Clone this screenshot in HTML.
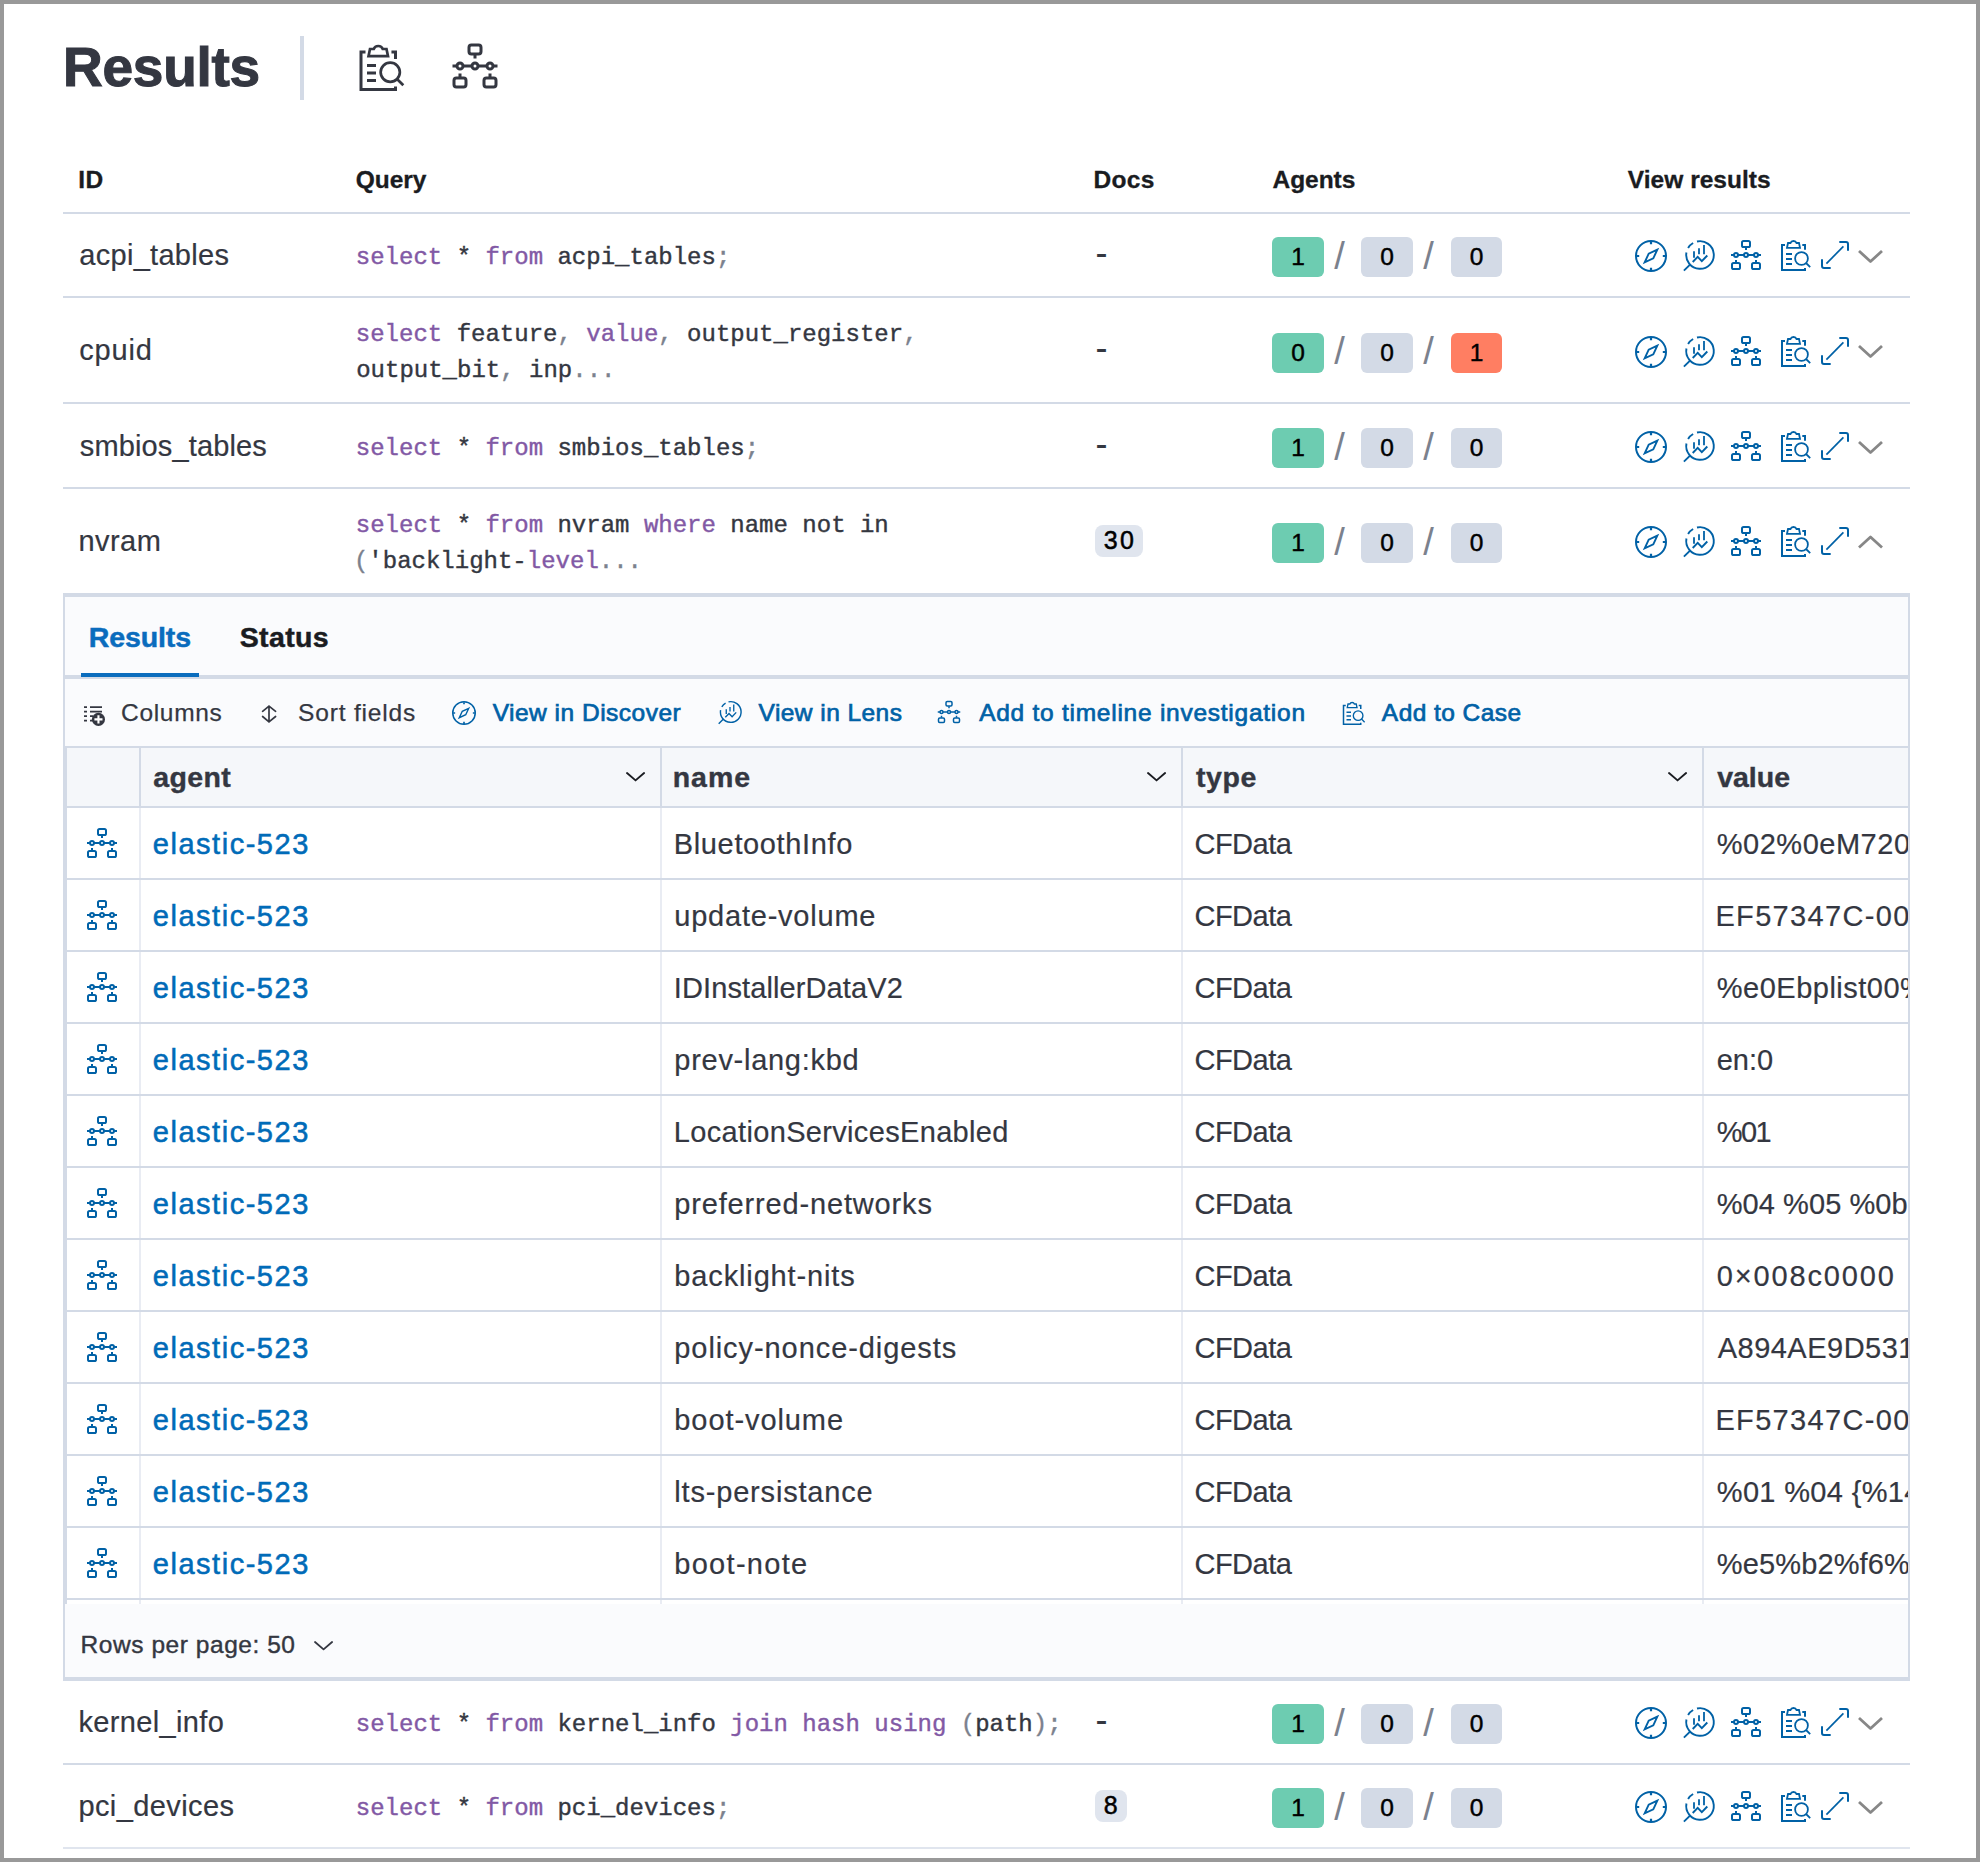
<!DOCTYPE html>
<html lang="en"><head><meta charset="utf-8"><title>Results</title><style>
html,body{margin:0;padding:0}
body{width:1980px;height:1862px;position:relative;overflow:hidden;background:#fff;font-family:"Liberation Sans",sans-serif}
.t{position:absolute;white-space:pre;display:block}
.r{position:absolute}
.i{position:absolute;overflow:visible}
.clip{position:absolute;overflow:hidden}
.bt{font:400 24.500px "Liberation Sans",sans-serif;color:#000;text-align:center;-webkit-text-stroke:0.45px #000}
#frame{position:absolute;left:0;top:0;width:1972px;height:1854px;border:4px solid #999;pointer-events:none}
</style></head>
<body>
<span id="t1" class="t" style="left:63.01px;top:40.44px;font:700 55.00px/55.00px 'Liberation Sans', sans-serif;color:#343741;letter-spacing:-0.252px;-webkit-text-stroke:1.1px currentColor;">Results</span>
<div class="r" style="left:300px;top:36px;width:4px;height:64px;background:#d3dae6;"></div>
<svg class="i" style="left:357.6px;top:42.9px" width="48" height="48" viewBox="0 0 32 32" fill="none" stroke="#343741" ><path d="M5 6H2V31H25V29" stroke-width="2"/><path d="M22.3 6H25V10.700" stroke-width="2"/><path d="M7 8.8L8 4H10.500C11 2.600 12.500 2 13.500 2C14.500 2 16 2.600 16.500 4H19L20 8.800Z" stroke-width="1.8" stroke-linejoin="miter"/><path d="M6 15h6M6 20h6M6 25h6" stroke-width="2"/><circle cx="21.500" cy="19.500" r="6.400" stroke-width="1.800"/><path d="M26 24l4.200 4.200" stroke-width="1.800"/></svg>
<svg class="i" style="left:450.6px;top:41.9px" width="48" height="48" viewBox="0 0 16 16" fill="none" stroke="#343741" stroke-width="1"><rect x="6" y="1" width="4" height="3" rx="0.8"/><rect x="1" y="12" width="4" height="3" rx="0.8"/><rect x="11" y="12" width="4" height="3" rx="0.8"/><path d="M0.5 8h15M8 4.2v1.3M3 10.500v1.3M13 10.500v1.3"/><circle cx="3" cy="8" r="1" fill="#fff"/><circle cx="8" cy="8" r="1" fill="#fff"/><circle cx="13" cy="8" r="1" fill="#fff"/></svg>
<span id="t2" class="t" style="left:78.22px;top:167.96px;font:700 24.50px/24.50px 'Liberation Sans', sans-serif;color:#1a1c21;letter-spacing:0.481px;-webkit-text-stroke:0.3px currentColor;">ID</span>
<span id="t3" class="t" style="left:355.68px;top:167.96px;font:700 24.50px/24.50px 'Liberation Sans', sans-serif;color:#1a1c21;letter-spacing:-0.025px;-webkit-text-stroke:0.3px currentColor;">Query</span>
<span id="t4" class="t" style="left:1093.62px;top:167.96px;font:700 24.50px/24.50px 'Liberation Sans', sans-serif;color:#1a1c21;letter-spacing:0.271px;-webkit-text-stroke:0.3px currentColor;">Docs</span>
<span id="t5" class="t" style="left:1272.57px;top:167.96px;font:700 24.50px/24.50px 'Liberation Sans', sans-serif;color:#1a1c21;letter-spacing:-0.052px;-webkit-text-stroke:0.3px currentColor;">Agents</span>
<span id="t6" class="t" style="left:1627.85px;top:167.96px;font:700 24.50px/24.50px 'Liberation Sans', sans-serif;color:#1a1c21;letter-spacing:0.023px;-webkit-text-stroke:0.3px currentColor;">View results</span>
<div class="r" style="left:63px;top:212px;width:1847px;height:2px;background:#d3dae6;"></div>
<span id="t7" class="t" style="left:79.29px;top:240.85px;font:400 29.00px/29.00px 'Liberation Sans', sans-serif;color:#343741;letter-spacing:0.290px;-webkit-text-stroke:0.2px currentColor;">acpi_tables</span>
<span id="t8" class="t" style="left:355.82px;top:245.60px;font:400 24.00px/24.00px 'Liberation Mono', monospace;color:#343741;-webkit-text-stroke:0.4px currentColor;"><span style="color:#8259a5">select</span> * <span style="color:#8259a5">from</span> acpi_tables<span style="color:#7b818d">;</span></span>
<span id="t9" class="t" style="left:1095.58px;top:234.73px;font:400 36.00px/36.00px 'Liberation Sans', sans-serif;color:#343741;">-</span>
<div class="r" style="left:1272px;top:237px;width:52px;height:40px;background:#6dccb1;border-radius:6px;"></div>
<span class="t bt" style="left:1272px;top:237px;width:52px;height:40px;line-height:40px;">1</span>
<div class="r" style="left:1361px;top:237px;width:52px;height:40px;background:#d3dae6;border-radius:6px;"></div>
<span class="t bt" style="left:1361px;top:237px;width:52px;height:40px;line-height:40px;">0</span>
<div class="r" style="left:1450.5px;top:237px;width:51.3px;height:40px;background:#d3dae6;border-radius:6px;"></div>
<span class="t bt" style="left:1450.5px;top:237px;width:52px;height:40px;line-height:40px;">0</span>
<span id="t10" class="t" style="left:1334.30px;top:237.33px;font:400 38.00px/38.00px 'Liberation Sans', sans-serif;color:#7b818d;">/</span>
<span id="t11" class="t" style="left:1423.20px;top:237.33px;font:400 38.00px/38.00px 'Liberation Sans', sans-serif;color:#7b818d;">/</span>
<svg class="i" style="left:1635px;top:240px" width="32" height="32" viewBox="0 0 32 32" fill="none" stroke="#0061a6" ><circle cx="16" cy="16" r="15" stroke-width="2"/><path d="M16 1.5v2.700M16 27.800v2.700M1.5 16h2.700M27.800 16h2.700" stroke-width="2.2"/><path d="M22.300 9.700L13.700 13.700 9.700 22.300 18.300 18.300z" stroke-width="1.900" stroke-linejoin="miter"/></svg>
<svg class="i" style="left:1683px;top:239px" width="32" height="32" viewBox="0 0 32 32" fill="none" stroke="#0061a6" ><path d="M13.99 2.53A13.8 13.8 0 1 1 3.43 13.51" stroke-width="1.900"/><path d="M5.1 9.02A13.8 13.8 0 0 1 10.12 4.04" stroke-width="1.900"/><path d="M0.900 31.600L7.300 25.400" stroke-width="1.900"/><path d="M11 12.200v6.500M16 9.200v6M21 6.100v9.100" stroke-width="1.800"/><path d="M9.700 23L14.700 17.900 18.800 22.200 24.300 16.500" stroke-width="1.900"/></svg>
<svg class="i" style="left:1730px;top:239px" width="32" height="32" viewBox="0 0 16 16" fill="none" stroke="#0061a6" stroke-width="1"><rect x="6" y="1" width="4" height="3" rx="0.8"/><rect x="1" y="12" width="4" height="3" rx="0.8"/><rect x="11" y="12" width="4" height="3" rx="0.8"/><path d="M0.5 8h15M8 4.2v1.3M3 10.500v1.3M13 10.500v1.3"/><circle cx="3" cy="8" r="1" fill="#fff"/><circle cx="8" cy="8" r="1" fill="#fff"/><circle cx="13" cy="8" r="1" fill="#fff"/></svg>
<svg class="i" style="left:1780px;top:239px" width="32" height="32" viewBox="0 0 32 32" fill="none" stroke="#0061a6" ><path d="M5 6H2V31H25V29" stroke-width="2"/><path d="M22.3 6H25V10.700" stroke-width="2"/><path d="M7 8.8L8 4H10.500C11 2.600 12.500 2 13.500 2C14.500 2 16 2.600 16.500 4H19L20 8.800Z" stroke-width="1.8" stroke-linejoin="miter"/><path d="M6 15h6M6 20h6M6 25h6" stroke-width="2"/><circle cx="21.500" cy="19.500" r="6.400" stroke-width="1.800"/><path d="M26 24l4.200 4.200" stroke-width="1.800"/></svg>
<svg class="i" style="left:1819px;top:239px" width="32" height="32" viewBox="0 0 32 32" fill="none" stroke="#0061a6" ><path d="M20.300 3H27a2 2 0 0 1 2 2V11.700" stroke-width="2"/><path d="M3 20.300V27a2 2 0 0 0 2 2H11.700" stroke-width="2"/><path d="M7.400 24.600L24.400 7.400" stroke-width="1.700"/></svg>
<svg class="i" style="left:1854.7px;top:246.5px" width="31" height="18.5" fill="none"><path d="M4 4L15.5 14.5L27 4" stroke="#878787" stroke-width="2.8" stroke-linejoin="round" stroke-linecap="butt"/></svg>
<div class="r" style="left:63px;top:296px;width:1847px;height:2px;background:#d3dae6;"></div>
<span id="t12" class="t" style="left:79.29px;top:335.85px;font:400 29.00px/29.00px 'Liberation Sans', sans-serif;color:#343741;letter-spacing:0.827px;-webkit-text-stroke:0.2px currentColor;">cpuid</span>
<span id="t13" class="t" style="left:355.82px;top:322.60px;font:400 24.00px/24.00px 'Liberation Mono', monospace;color:#343741;-webkit-text-stroke:0.4px currentColor;"><span style="color:#8259a5">select</span> feature<span style="color:#7b818d">,</span> <span style="color:#8259a5">value</span><span style="color:#7b818d">,</span> output_register<span style="color:#7b818d">,</span></span>
<span id="t14" class="t" style="left:356.20px;top:358.60px;font:400 24.00px/24.00px 'Liberation Mono', monospace;color:#343741;-webkit-text-stroke:0.4px currentColor;">output_bit<span style="color:#7b818d">,</span> inp<span style="color:#7b818d">...</span></span>
<span id="t15" class="t" style="left:1095.58px;top:329.73px;font:400 36.00px/36.00px 'Liberation Sans', sans-serif;color:#343741;">-</span>
<div class="r" style="left:1272px;top:333px;width:52px;height:40px;background:#6dccb1;border-radius:6px;"></div>
<span class="t bt" style="left:1272px;top:333px;width:52px;height:40px;line-height:40px;">0</span>
<div class="r" style="left:1361px;top:333px;width:52px;height:40px;background:#d3dae6;border-radius:6px;"></div>
<span class="t bt" style="left:1361px;top:333px;width:52px;height:40px;line-height:40px;">0</span>
<div class="r" style="left:1450.5px;top:333px;width:51.3px;height:40px;background:#ff7e62;border-radius:6px;"></div>
<span class="t bt" style="left:1450.5px;top:333px;width:52px;height:40px;line-height:40px;">1</span>
<span id="t16" class="t" style="left:1334.30px;top:332.33px;font:400 38.00px/38.00px 'Liberation Sans', sans-serif;color:#7b818d;">/</span>
<span id="t17" class="t" style="left:1423.20px;top:332.33px;font:400 38.00px/38.00px 'Liberation Sans', sans-serif;color:#7b818d;">/</span>
<svg class="i" style="left:1635px;top:336px" width="32" height="32" viewBox="0 0 32 32" fill="none" stroke="#0061a6" ><circle cx="16" cy="16" r="15" stroke-width="2"/><path d="M16 1.5v2.700M16 27.800v2.700M1.5 16h2.700M27.800 16h2.700" stroke-width="2.2"/><path d="M22.300 9.700L13.700 13.700 9.700 22.300 18.300 18.300z" stroke-width="1.900" stroke-linejoin="miter"/></svg>
<svg class="i" style="left:1683px;top:335px" width="32" height="32" viewBox="0 0 32 32" fill="none" stroke="#0061a6" ><path d="M13.99 2.53A13.8 13.8 0 1 1 3.43 13.51" stroke-width="1.900"/><path d="M5.1 9.02A13.8 13.8 0 0 1 10.12 4.04" stroke-width="1.900"/><path d="M0.900 31.600L7.300 25.400" stroke-width="1.900"/><path d="M11 12.200v6.500M16 9.200v6M21 6.100v9.100" stroke-width="1.800"/><path d="M9.700 23L14.700 17.900 18.800 22.200 24.300 16.500" stroke-width="1.900"/></svg>
<svg class="i" style="left:1730px;top:335px" width="32" height="32" viewBox="0 0 16 16" fill="none" stroke="#0061a6" stroke-width="1"><rect x="6" y="1" width="4" height="3" rx="0.8"/><rect x="1" y="12" width="4" height="3" rx="0.8"/><rect x="11" y="12" width="4" height="3" rx="0.8"/><path d="M0.5 8h15M8 4.2v1.3M3 10.500v1.3M13 10.500v1.3"/><circle cx="3" cy="8" r="1" fill="#fff"/><circle cx="8" cy="8" r="1" fill="#fff"/><circle cx="13" cy="8" r="1" fill="#fff"/></svg>
<svg class="i" style="left:1780px;top:335px" width="32" height="32" viewBox="0 0 32 32" fill="none" stroke="#0061a6" ><path d="M5 6H2V31H25V29" stroke-width="2"/><path d="M22.3 6H25V10.700" stroke-width="2"/><path d="M7 8.8L8 4H10.500C11 2.600 12.500 2 13.500 2C14.500 2 16 2.600 16.500 4H19L20 8.800Z" stroke-width="1.8" stroke-linejoin="miter"/><path d="M6 15h6M6 20h6M6 25h6" stroke-width="2"/><circle cx="21.500" cy="19.500" r="6.400" stroke-width="1.800"/><path d="M26 24l4.200 4.200" stroke-width="1.800"/></svg>
<svg class="i" style="left:1819px;top:335px" width="32" height="32" viewBox="0 0 32 32" fill="none" stroke="#0061a6" ><path d="M20.300 3H27a2 2 0 0 1 2 2V11.700" stroke-width="2"/><path d="M3 20.300V27a2 2 0 0 0 2 2H11.700" stroke-width="2"/><path d="M7.400 24.600L24.400 7.400" stroke-width="1.700"/></svg>
<svg class="i" style="left:1854.7px;top:341.5px" width="31" height="18.5" fill="none"><path d="M4 4L15.5 14.5L27 4" stroke="#878787" stroke-width="2.8" stroke-linejoin="round" stroke-linecap="butt"/></svg>
<div class="r" style="left:63px;top:402px;width:1847px;height:2px;background:#d3dae6;"></div>
<span id="t18" class="t" style="left:79.75px;top:431.85px;font:400 29.00px/29.00px 'Liberation Sans', sans-serif;color:#343741;letter-spacing:0.141px;-webkit-text-stroke:0.2px currentColor;">smbios_tables</span>
<span id="t19" class="t" style="left:355.82px;top:436.60px;font:400 24.00px/24.00px 'Liberation Mono', monospace;color:#343741;-webkit-text-stroke:0.4px currentColor;"><span style="color:#8259a5">select</span> * <span style="color:#8259a5">from</span> smbios_tables<span style="color:#7b818d">;</span></span>
<span id="t20" class="t" style="left:1095.58px;top:425.73px;font:400 36.00px/36.00px 'Liberation Sans', sans-serif;color:#343741;">-</span>
<div class="r" style="left:1272px;top:428px;width:52px;height:40px;background:#6dccb1;border-radius:6px;"></div>
<span class="t bt" style="left:1272px;top:428px;width:52px;height:40px;line-height:40px;">1</span>
<div class="r" style="left:1361px;top:428px;width:52px;height:40px;background:#d3dae6;border-radius:6px;"></div>
<span class="t bt" style="left:1361px;top:428px;width:52px;height:40px;line-height:40px;">0</span>
<div class="r" style="left:1450.5px;top:428px;width:51.3px;height:40px;background:#d3dae6;border-radius:6px;"></div>
<span class="t bt" style="left:1450.5px;top:428px;width:52px;height:40px;line-height:40px;">0</span>
<span id="t21" class="t" style="left:1334.30px;top:428.33px;font:400 38.00px/38.00px 'Liberation Sans', sans-serif;color:#7b818d;">/</span>
<span id="t22" class="t" style="left:1423.20px;top:428.33px;font:400 38.00px/38.00px 'Liberation Sans', sans-serif;color:#7b818d;">/</span>
<svg class="i" style="left:1635px;top:431px" width="32" height="32" viewBox="0 0 32 32" fill="none" stroke="#0061a6" ><circle cx="16" cy="16" r="15" stroke-width="2"/><path d="M16 1.5v2.700M16 27.800v2.700M1.5 16h2.700M27.800 16h2.700" stroke-width="2.2"/><path d="M22.300 9.700L13.700 13.700 9.700 22.300 18.300 18.300z" stroke-width="1.900" stroke-linejoin="miter"/></svg>
<svg class="i" style="left:1683px;top:430px" width="32" height="32" viewBox="0 0 32 32" fill="none" stroke="#0061a6" ><path d="M13.99 2.53A13.8 13.8 0 1 1 3.43 13.51" stroke-width="1.900"/><path d="M5.1 9.02A13.8 13.8 0 0 1 10.12 4.04" stroke-width="1.900"/><path d="M0.900 31.600L7.300 25.400" stroke-width="1.900"/><path d="M11 12.200v6.500M16 9.200v6M21 6.100v9.100" stroke-width="1.800"/><path d="M9.700 23L14.700 17.900 18.800 22.200 24.300 16.500" stroke-width="1.900"/></svg>
<svg class="i" style="left:1730px;top:430px" width="32" height="32" viewBox="0 0 16 16" fill="none" stroke="#0061a6" stroke-width="1"><rect x="6" y="1" width="4" height="3" rx="0.8"/><rect x="1" y="12" width="4" height="3" rx="0.8"/><rect x="11" y="12" width="4" height="3" rx="0.8"/><path d="M0.5 8h15M8 4.2v1.3M3 10.500v1.3M13 10.500v1.3"/><circle cx="3" cy="8" r="1" fill="#fff"/><circle cx="8" cy="8" r="1" fill="#fff"/><circle cx="13" cy="8" r="1" fill="#fff"/></svg>
<svg class="i" style="left:1780px;top:430px" width="32" height="32" viewBox="0 0 32 32" fill="none" stroke="#0061a6" ><path d="M5 6H2V31H25V29" stroke-width="2"/><path d="M22.3 6H25V10.700" stroke-width="2"/><path d="M7 8.8L8 4H10.500C11 2.600 12.500 2 13.500 2C14.500 2 16 2.600 16.500 4H19L20 8.800Z" stroke-width="1.8" stroke-linejoin="miter"/><path d="M6 15h6M6 20h6M6 25h6" stroke-width="2"/><circle cx="21.500" cy="19.500" r="6.400" stroke-width="1.800"/><path d="M26 24l4.200 4.200" stroke-width="1.800"/></svg>
<svg class="i" style="left:1819px;top:430px" width="32" height="32" viewBox="0 0 32 32" fill="none" stroke="#0061a6" ><path d="M20.300 3H27a2 2 0 0 1 2 2V11.700" stroke-width="2"/><path d="M3 20.300V27a2 2 0 0 0 2 2H11.700" stroke-width="2"/><path d="M7.400 24.600L24.400 7.400" stroke-width="1.700"/></svg>
<svg class="i" style="left:1854.7px;top:437.5px" width="31" height="18.5" fill="none"><path d="M4 4L15.5 14.5L27 4" stroke="#878787" stroke-width="2.8" stroke-linejoin="round" stroke-linecap="butt"/></svg>
<div class="r" style="left:63px;top:487px;width:1847px;height:2px;background:#d3dae6;"></div>
<span id="t23" class="t" style="left:78.39px;top:526.85px;font:400 29.00px/29.00px 'Liberation Sans', sans-serif;color:#343741;letter-spacing:0.461px;-webkit-text-stroke:0.2px currentColor;">nvram</span>
<span id="t24" class="t" style="left:355.82px;top:513.60px;font:400 24.00px/24.00px 'Liberation Mono', monospace;color:#343741;-webkit-text-stroke:0.4px currentColor;"><span style="color:#8259a5">select</span> * <span style="color:#8259a5">from</span> nvram <span style="color:#8259a5">where</span> name not in</span>
<span id="t25" class="t" style="left:353.95px;top:549.60px;font:400 24.00px/24.00px 'Liberation Mono', monospace;color:#343741;-webkit-text-stroke:0.4px currentColor;"><span style="color:#7b818d">(</span>&#x27;backlight-<span style="color:#8259a5">level</span><span style="color:#7b818d">...</span></span>
<div class="r" style="left:1095px;top:525px;width:48px;height:32px;background:#e0e5ee;border-radius:8px;"></div>
<span id="t26" class="t" style="left:1103.67px;top:527.84px;font:400 25.00px/25.00px 'Liberation Sans', sans-serif;color:#000;letter-spacing:2.396px;-webkit-text-stroke:0.5px currentColor;">30</span>
<div class="r" style="left:1272px;top:523px;width:52px;height:40px;background:#6dccb1;border-radius:6px;"></div>
<span class="t bt" style="left:1272px;top:523px;width:52px;height:40px;line-height:40px;">1</span>
<div class="r" style="left:1361px;top:523px;width:52px;height:40px;background:#d3dae6;border-radius:6px;"></div>
<span class="t bt" style="left:1361px;top:523px;width:52px;height:40px;line-height:40px;">0</span>
<div class="r" style="left:1450.5px;top:523px;width:51.3px;height:40px;background:#d3dae6;border-radius:6px;"></div>
<span class="t bt" style="left:1450.5px;top:523px;width:52px;height:40px;line-height:40px;">0</span>
<span id="t27" class="t" style="left:1334.30px;top:523.33px;font:400 38.00px/38.00px 'Liberation Sans', sans-serif;color:#7b818d;">/</span>
<span id="t28" class="t" style="left:1423.20px;top:523.33px;font:400 38.00px/38.00px 'Liberation Sans', sans-serif;color:#7b818d;">/</span>
<svg class="i" style="left:1635px;top:526px" width="32" height="32" viewBox="0 0 32 32" fill="none" stroke="#0061a6" ><circle cx="16" cy="16" r="15" stroke-width="2"/><path d="M16 1.5v2.700M16 27.800v2.700M1.5 16h2.700M27.800 16h2.700" stroke-width="2.2"/><path d="M22.300 9.700L13.700 13.700 9.700 22.300 18.300 18.300z" stroke-width="1.900" stroke-linejoin="miter"/></svg>
<svg class="i" style="left:1683px;top:525px" width="32" height="32" viewBox="0 0 32 32" fill="none" stroke="#0061a6" ><path d="M13.99 2.53A13.8 13.8 0 1 1 3.43 13.51" stroke-width="1.900"/><path d="M5.1 9.02A13.8 13.8 0 0 1 10.12 4.04" stroke-width="1.900"/><path d="M0.900 31.600L7.300 25.400" stroke-width="1.900"/><path d="M11 12.200v6.500M16 9.200v6M21 6.100v9.100" stroke-width="1.800"/><path d="M9.700 23L14.700 17.900 18.800 22.200 24.300 16.500" stroke-width="1.900"/></svg>
<svg class="i" style="left:1730px;top:525px" width="32" height="32" viewBox="0 0 16 16" fill="none" stroke="#0061a6" stroke-width="1"><rect x="6" y="1" width="4" height="3" rx="0.8"/><rect x="1" y="12" width="4" height="3" rx="0.8"/><rect x="11" y="12" width="4" height="3" rx="0.8"/><path d="M0.5 8h15M8 4.2v1.3M3 10.500v1.3M13 10.500v1.3"/><circle cx="3" cy="8" r="1" fill="#fff"/><circle cx="8" cy="8" r="1" fill="#fff"/><circle cx="13" cy="8" r="1" fill="#fff"/></svg>
<svg class="i" style="left:1780px;top:525px" width="32" height="32" viewBox="0 0 32 32" fill="none" stroke="#0061a6" ><path d="M5 6H2V31H25V29" stroke-width="2"/><path d="M22.3 6H25V10.700" stroke-width="2"/><path d="M7 8.8L8 4H10.500C11 2.600 12.500 2 13.500 2C14.500 2 16 2.600 16.500 4H19L20 8.800Z" stroke-width="1.8" stroke-linejoin="miter"/><path d="M6 15h6M6 20h6M6 25h6" stroke-width="2"/><circle cx="21.500" cy="19.500" r="6.400" stroke-width="1.800"/><path d="M26 24l4.200 4.200" stroke-width="1.800"/></svg>
<svg class="i" style="left:1819px;top:525px" width="32" height="32" viewBox="0 0 32 32" fill="none" stroke="#0061a6" ><path d="M20.300 3H27a2 2 0 0 1 2 2V11.700" stroke-width="2"/><path d="M3 20.300V27a2 2 0 0 0 2 2H11.700" stroke-width="2"/><path d="M7.400 24.600L24.400 7.400" stroke-width="1.700"/></svg>
<svg class="i" style="left:1854.7px;top:532.5px" width="31" height="18.5" fill="none"><path d="M4 14.5L15.5 4L27 14.5" stroke="#878787" stroke-width="2.8" stroke-linejoin="round" stroke-linecap="butt"/></svg>
<span id="t29" class="t" style="left:78.39px;top:1707.85px;font:400 29.00px/29.00px 'Liberation Sans', sans-serif;color:#343741;letter-spacing:0.352px;-webkit-text-stroke:0.2px currentColor;">kernel_info</span>
<span id="t30" class="t" style="left:355.82px;top:1712.60px;font:400 24.00px/24.00px 'Liberation Mono', monospace;color:#343741;-webkit-text-stroke:0.4px currentColor;"><span style="color:#8259a5">select</span> * <span style="color:#8259a5">from</span> kernel_info <span style="color:#8259a5">join</span> <span style="color:#8259a5">hash</span> <span style="color:#8259a5">using</span> <span style="color:#7b818d">(</span>path<span style="color:#7b818d">);</span></span>
<span id="t31" class="t" style="left:1095.58px;top:1701.73px;font:400 36.00px/36.00px 'Liberation Sans', sans-serif;color:#343741;">-</span>
<div class="r" style="left:1272px;top:1704px;width:52px;height:40px;background:#6dccb1;border-radius:6px;"></div>
<span class="t bt" style="left:1272px;top:1704px;width:52px;height:40px;line-height:40px;">1</span>
<div class="r" style="left:1361px;top:1704px;width:52px;height:40px;background:#d3dae6;border-radius:6px;"></div>
<span class="t bt" style="left:1361px;top:1704px;width:52px;height:40px;line-height:40px;">0</span>
<div class="r" style="left:1450.5px;top:1704px;width:51.3px;height:40px;background:#d3dae6;border-radius:6px;"></div>
<span class="t bt" style="left:1450.5px;top:1704px;width:52px;height:40px;line-height:40px;">0</span>
<span id="t32" class="t" style="left:1334.30px;top:1704.33px;font:400 38.00px/38.00px 'Liberation Sans', sans-serif;color:#7b818d;">/</span>
<span id="t33" class="t" style="left:1423.20px;top:1704.33px;font:400 38.00px/38.00px 'Liberation Sans', sans-serif;color:#7b818d;">/</span>
<svg class="i" style="left:1635px;top:1707px" width="32" height="32" viewBox="0 0 32 32" fill="none" stroke="#0061a6" ><circle cx="16" cy="16" r="15" stroke-width="2"/><path d="M16 1.5v2.700M16 27.800v2.700M1.5 16h2.700M27.800 16h2.700" stroke-width="2.2"/><path d="M22.300 9.700L13.700 13.700 9.700 22.300 18.300 18.300z" stroke-width="1.900" stroke-linejoin="miter"/></svg>
<svg class="i" style="left:1683px;top:1706px" width="32" height="32" viewBox="0 0 32 32" fill="none" stroke="#0061a6" ><path d="M13.99 2.53A13.8 13.8 0 1 1 3.43 13.51" stroke-width="1.900"/><path d="M5.1 9.02A13.8 13.8 0 0 1 10.12 4.04" stroke-width="1.900"/><path d="M0.900 31.600L7.300 25.400" stroke-width="1.900"/><path d="M11 12.200v6.500M16 9.200v6M21 6.100v9.100" stroke-width="1.800"/><path d="M9.700 23L14.700 17.900 18.800 22.200 24.300 16.500" stroke-width="1.900"/></svg>
<svg class="i" style="left:1730px;top:1706px" width="32" height="32" viewBox="0 0 16 16" fill="none" stroke="#0061a6" stroke-width="1"><rect x="6" y="1" width="4" height="3" rx="0.8"/><rect x="1" y="12" width="4" height="3" rx="0.8"/><rect x="11" y="12" width="4" height="3" rx="0.8"/><path d="M0.5 8h15M8 4.2v1.3M3 10.500v1.3M13 10.500v1.3"/><circle cx="3" cy="8" r="1" fill="#fff"/><circle cx="8" cy="8" r="1" fill="#fff"/><circle cx="13" cy="8" r="1" fill="#fff"/></svg>
<svg class="i" style="left:1780px;top:1706px" width="32" height="32" viewBox="0 0 32 32" fill="none" stroke="#0061a6" ><path d="M5 6H2V31H25V29" stroke-width="2"/><path d="M22.3 6H25V10.700" stroke-width="2"/><path d="M7 8.8L8 4H10.500C11 2.600 12.500 2 13.500 2C14.500 2 16 2.600 16.500 4H19L20 8.800Z" stroke-width="1.8" stroke-linejoin="miter"/><path d="M6 15h6M6 20h6M6 25h6" stroke-width="2"/><circle cx="21.500" cy="19.500" r="6.400" stroke-width="1.800"/><path d="M26 24l4.200 4.200" stroke-width="1.800"/></svg>
<svg class="i" style="left:1819px;top:1706px" width="32" height="32" viewBox="0 0 32 32" fill="none" stroke="#0061a6" ><path d="M20.300 3H27a2 2 0 0 1 2 2V11.700" stroke-width="2"/><path d="M3 20.300V27a2 2 0 0 0 2 2H11.700" stroke-width="2"/><path d="M7.400 24.600L24.400 7.400" stroke-width="1.700"/></svg>
<svg class="i" style="left:1854.7px;top:1713.5px" width="31" height="18.5" fill="none"><path d="M4 4L15.5 14.5L27 4" stroke="#878787" stroke-width="2.8" stroke-linejoin="round" stroke-linecap="butt"/></svg>
<div class="r" style="left:63px;top:1763px;width:1847px;height:2px;background:#d3dae6;"></div>
<span id="t34" class="t" style="left:78.39px;top:1791.85px;font:400 29.00px/29.00px 'Liberation Sans', sans-serif;color:#343741;letter-spacing:0.409px;-webkit-text-stroke:0.2px currentColor;">pci_devices</span>
<span id="t35" class="t" style="left:355.82px;top:1796.60px;font:400 24.00px/24.00px 'Liberation Mono', monospace;color:#343741;-webkit-text-stroke:0.4px currentColor;"><span style="color:#8259a5">select</span> * <span style="color:#8259a5">from</span> pci_devices<span style="color:#7b818d">;</span></span>
<div class="r" style="left:1095px;top:1790px;width:32px;height:32px;background:#e0e5ee;border-radius:8px;"></div>
<span id="t36" class="t" style="left:1103.67px;top:1792.84px;font:400 25.00px/25.00px 'Liberation Sans', sans-serif;color:#000;-webkit-text-stroke:0.5px currentColor;">8</span>
<div class="r" style="left:1272px;top:1788px;width:52px;height:40px;background:#6dccb1;border-radius:6px;"></div>
<span class="t bt" style="left:1272px;top:1788px;width:52px;height:40px;line-height:40px;">1</span>
<div class="r" style="left:1361px;top:1788px;width:52px;height:40px;background:#d3dae6;border-radius:6px;"></div>
<span class="t bt" style="left:1361px;top:1788px;width:52px;height:40px;line-height:40px;">0</span>
<div class="r" style="left:1450.5px;top:1788px;width:51.3px;height:40px;background:#d3dae6;border-radius:6px;"></div>
<span class="t bt" style="left:1450.5px;top:1788px;width:52px;height:40px;line-height:40px;">0</span>
<span id="t37" class="t" style="left:1334.30px;top:1788.33px;font:400 38.00px/38.00px 'Liberation Sans', sans-serif;color:#7b818d;">/</span>
<span id="t38" class="t" style="left:1423.20px;top:1788.33px;font:400 38.00px/38.00px 'Liberation Sans', sans-serif;color:#7b818d;">/</span>
<svg class="i" style="left:1635px;top:1791px" width="32" height="32" viewBox="0 0 32 32" fill="none" stroke="#0061a6" ><circle cx="16" cy="16" r="15" stroke-width="2"/><path d="M16 1.5v2.700M16 27.800v2.700M1.5 16h2.700M27.800 16h2.700" stroke-width="2.2"/><path d="M22.300 9.700L13.700 13.700 9.700 22.300 18.300 18.300z" stroke-width="1.900" stroke-linejoin="miter"/></svg>
<svg class="i" style="left:1683px;top:1790px" width="32" height="32" viewBox="0 0 32 32" fill="none" stroke="#0061a6" ><path d="M13.99 2.53A13.8 13.8 0 1 1 3.43 13.51" stroke-width="1.900"/><path d="M5.1 9.02A13.8 13.8 0 0 1 10.12 4.04" stroke-width="1.900"/><path d="M0.900 31.600L7.300 25.400" stroke-width="1.900"/><path d="M11 12.200v6.500M16 9.200v6M21 6.100v9.100" stroke-width="1.800"/><path d="M9.700 23L14.700 17.900 18.800 22.200 24.300 16.500" stroke-width="1.900"/></svg>
<svg class="i" style="left:1730px;top:1790px" width="32" height="32" viewBox="0 0 16 16" fill="none" stroke="#0061a6" stroke-width="1"><rect x="6" y="1" width="4" height="3" rx="0.8"/><rect x="1" y="12" width="4" height="3" rx="0.8"/><rect x="11" y="12" width="4" height="3" rx="0.8"/><path d="M0.5 8h15M8 4.2v1.3M3 10.500v1.3M13 10.500v1.3"/><circle cx="3" cy="8" r="1" fill="#fff"/><circle cx="8" cy="8" r="1" fill="#fff"/><circle cx="13" cy="8" r="1" fill="#fff"/></svg>
<svg class="i" style="left:1780px;top:1790px" width="32" height="32" viewBox="0 0 32 32" fill="none" stroke="#0061a6" ><path d="M5 6H2V31H25V29" stroke-width="2"/><path d="M22.3 6H25V10.700" stroke-width="2"/><path d="M7 8.8L8 4H10.500C11 2.600 12.500 2 13.500 2C14.500 2 16 2.600 16.500 4H19L20 8.800Z" stroke-width="1.8" stroke-linejoin="miter"/><path d="M6 15h6M6 20h6M6 25h6" stroke-width="2"/><circle cx="21.500" cy="19.500" r="6.400" stroke-width="1.800"/><path d="M26 24l4.200 4.200" stroke-width="1.800"/></svg>
<svg class="i" style="left:1819px;top:1790px" width="32" height="32" viewBox="0 0 32 32" fill="none" stroke="#0061a6" ><path d="M20.300 3H27a2 2 0 0 1 2 2V11.700" stroke-width="2"/><path d="M3 20.300V27a2 2 0 0 0 2 2H11.700" stroke-width="2"/><path d="M7.400 24.600L24.400 7.400" stroke-width="1.700"/></svg>
<svg class="i" style="left:1854.7px;top:1797.5px" width="31" height="18.5" fill="none"><path d="M4 4L15.5 14.5L27 4" stroke="#878787" stroke-width="2.8" stroke-linejoin="round" stroke-linecap="butt"/></svg>
<div class="r" style="left:63px;top:1847px;width:1847px;height:2px;background:#e0e5ee;"></div>
<div class="r" style="left:63px;top:593px;width:1847px;height:1088px;background:#d3dae6;"></div>
<div class="r" style="left:65px;top:597px;width:1843px;height:1080px;background:#fafbfd;"></div>
<span id="t39" class="t" style="left:88.67px;top:622.57px;font:700 28.50px/28.50px 'Liberation Sans', sans-serif;color:#0a6cbd;letter-spacing:-0.102px;-webkit-text-stroke:0.5px currentColor;">Results</span>
<span id="t40" class="t" style="left:239.70px;top:622.57px;font:700 28.50px/28.50px 'Liberation Sans', sans-serif;color:#1a1c21;letter-spacing:0.380px;-webkit-text-stroke:0.5px currentColor;">Status</span>
<div class="r" style="left:65px;top:675px;width:1843px;height:4px;background:#d3dae6;"></div>
<div class="r" style="left:81px;top:673px;width:118px;height:4px;background:#0a6cbd;"></div>
<svg class="i" style="left:82px;top:702px" width="24" height="24" viewBox="0 0 24 24" fill="none" stroke="#343741" ><path d="M2 5.200h3M2 9.700h3M2 14.200h3M2 18.700h3M8 5.200h12M8 9.700h12M8 14.200h3M8 18.700h3" stroke-width="1.800"/><circle cx="16.450" cy="17.350" r="6.550" fill="#343741" stroke="none"/><path d="M16.450 13.300v8.100M12.400 17.350h8.100" stroke="#fff" stroke-width="2.100"/></svg>
<span id="t41" class="t" style="left:121.08px;top:701.26px;font:400 24.50px/24.50px 'Liberation Sans', sans-serif;color:#343741;letter-spacing:0.665px;-webkit-text-stroke:0.25px currentColor;">Columns</span>
<svg class="i" style="left:257px;top:702px" width="24" height="24" viewBox="0 0 24 24" fill="none" stroke="#343741" ><path d="M12 4v16M5.600 9.300L12 4.100 18.600 9.300M5.600 14.500L12 19.900 18.600 14.500" stroke-width="1.700" stroke-linejoin="round" stroke-linecap="round"/></svg>
<span id="t42" class="t" style="left:298.06px;top:701.26px;font:400 24.50px/24.50px 'Liberation Sans', sans-serif;color:#343741;letter-spacing:0.825px;-webkit-text-stroke:0.25px currentColor;">Sort fields</span>
<svg class="i" style="left:452px;top:701px" width="24" height="24" viewBox="0 0 32 32" fill="none" stroke="#0061a6" ><circle cx="16" cy="16" r="15" stroke-width="2"/><path d="M16 1.5v2.700M16 27.800v2.700M1.5 16h2.700M27.800 16h2.700" stroke-width="2.2"/><path d="M22.300 9.700L13.700 13.700 9.700 22.300 18.300 18.300z" stroke-width="1.900" stroke-linejoin="miter"/></svg>
<span id="t43" class="t" style="left:492.65px;top:700.66px;font:400 24.50px/24.50px 'Liberation Sans', sans-serif;color:#0061a6;letter-spacing:0.499px;-webkit-text-stroke:0.7px currentColor;">View in Discover</span>
<svg class="i" style="left:718px;top:700.4px" width="24" height="24" viewBox="0 0 32 32" fill="none" stroke="#0061a6" ><path d="M13.99 2.53A13.8 13.8 0 1 1 3.43 13.51" stroke-width="1.900"/><path d="M5.1 9.02A13.8 13.8 0 0 1 10.12 4.04" stroke-width="1.900"/><path d="M0.900 31.600L7.300 25.400" stroke-width="1.900"/><path d="M11 12.200v6.500M16 9.200v6M21 6.100v9.100" stroke-width="1.800"/><path d="M9.700 23L14.700 17.900 18.800 22.200 24.300 16.500" stroke-width="1.900"/></svg>
<span id="t44" class="t" style="left:758.55px;top:700.66px;font:400 24.50px/24.50px 'Liberation Sans', sans-serif;color:#0061a6;letter-spacing:0.445px;-webkit-text-stroke:0.7px currentColor;">View in Lens</span>
<svg class="i" style="left:937px;top:699.9px" width="24" height="24" viewBox="0 0 16 16" fill="none" stroke="#0061a6" stroke-width="1"><rect x="6" y="1" width="4" height="3" rx="0.8"/><rect x="1" y="12" width="4" height="3" rx="0.8"/><rect x="11" y="12" width="4" height="3" rx="0.8"/><path d="M0.5 8h15M8 4.2v1.3M3 10.500v1.3M13 10.500v1.3"/><circle cx="3" cy="8" r="1" fill="#fff"/><circle cx="8" cy="8" r="1" fill="#fff"/><circle cx="13" cy="8" r="1" fill="#fff"/></svg>
<span id="t45" class="t" style="left:979.15px;top:700.66px;font:400 24.50px/24.50px 'Liberation Sans', sans-serif;color:#0061a6;letter-spacing:0.743px;-webkit-text-stroke:0.7px currentColor;">Add to timeline investigation</span>
<svg class="i" style="left:1341.5px;top:701px" width="24" height="24" viewBox="0 0 32 32" fill="none" stroke="#0061a6" ><path d="M5 6H2V31H25V29" stroke-width="2"/><path d="M22.3 6H25V10.700" stroke-width="2"/><path d="M7 8.8L8 4H10.500C11 2.600 12.500 2 13.500 2C14.500 2 16 2.600 16.500 4H19L20 8.800Z" stroke-width="1.8" stroke-linejoin="miter"/><path d="M6 15h6M6 20h6M6 25h6" stroke-width="2"/><circle cx="21.500" cy="19.500" r="6.400" stroke-width="1.800"/><path d="M26 24l4.200 4.200" stroke-width="1.800"/></svg>
<span id="t46" class="t" style="left:1381.85px;top:700.66px;font:400 24.50px/24.50px 'Liberation Sans', sans-serif;color:#0061a6;letter-spacing:0.446px;-webkit-text-stroke:0.7px currentColor;">Add to Case</span>
<div class="r" style="left:65px;top:746px;width:1843px;height:2px;background:#d3dae6;"></div>
<div class="r" style="left:65px;top:748px;width:2px;height:856px;background:#d3dae6;"></div>
<div class="r" style="left:67px;top:748px;width:1841px;height:58px;background:#f5f7fa;"></div>
<div class="r" style="left:67px;top:806px;width:1841px;height:2px;background:#d3dae6;"></div>
<div class="r" style="left:67px;top:808px;width:1841px;height:796px;background:#fff;"></div>
<div class="r" style="left:139px;top:748px;width:2px;height:58px;background:#d3dae6;"></div>
<div class="r" style="left:139px;top:808px;width:2px;height:796px;background:#e9ecf3;"></div>
<div class="r" style="left:660px;top:748px;width:2px;height:58px;background:#d3dae6;"></div>
<div class="r" style="left:660px;top:808px;width:2px;height:796px;background:#e9ecf3;"></div>
<div class="r" style="left:1181px;top:748px;width:2px;height:58px;background:#d3dae6;"></div>
<div class="r" style="left:1181px;top:808px;width:2px;height:796px;background:#e9ecf3;"></div>
<div class="r" style="left:1702px;top:748px;width:2px;height:58px;background:#d3dae6;"></div>
<div class="r" style="left:1702px;top:808px;width:2px;height:796px;background:#e9ecf3;"></div>
<div class="r" style="left:67px;top:878px;width:1841px;height:2px;background:#d3dae6;"></div>
<div class="r" style="left:67px;top:950px;width:1841px;height:2px;background:#d3dae6;"></div>
<div class="r" style="left:67px;top:1022px;width:1841px;height:2px;background:#d3dae6;"></div>
<div class="r" style="left:67px;top:1094px;width:1841px;height:2px;background:#d3dae6;"></div>
<div class="r" style="left:67px;top:1166px;width:1841px;height:2px;background:#d3dae6;"></div>
<div class="r" style="left:67px;top:1238px;width:1841px;height:2px;background:#d3dae6;"></div>
<div class="r" style="left:67px;top:1310px;width:1841px;height:2px;background:#d3dae6;"></div>
<div class="r" style="left:67px;top:1382px;width:1841px;height:2px;background:#d3dae6;"></div>
<div class="r" style="left:67px;top:1454px;width:1841px;height:2px;background:#d3dae6;"></div>
<div class="r" style="left:67px;top:1526px;width:1841px;height:2px;background:#d3dae6;"></div>
<div class="r" style="left:67px;top:1598px;width:1841px;height:2px;background:#d3dae6;"></div>
<span id="t47" class="t" style="left:153.15px;top:763.07px;font:700 28.50px/28.50px 'Liberation Sans', sans-serif;color:#343741;letter-spacing:0.394px;-webkit-text-stroke:0.4px currentColor;">agent</span>
<span id="t48" class="t" style="left:672.72px;top:763.07px;font:700 28.50px/28.50px 'Liberation Sans', sans-serif;color:#343741;letter-spacing:0.980px;-webkit-text-stroke:0.4px currentColor;">name</span>
<span id="t49" class="t" style="left:1195.90px;top:763.07px;font:700 28.50px/28.50px 'Liberation Sans', sans-serif;color:#343741;letter-spacing:0.603px;-webkit-text-stroke:0.4px currentColor;">type</span>
<span id="t50" class="t" style="left:1717.20px;top:763.07px;font:700 28.50px/28.50px 'Liberation Sans', sans-serif;color:#343741;letter-spacing:-0.017px;-webkit-text-stroke:0.4px currentColor;">value</span>
<svg class="i" style="left:623.4px;top:769px" width="25.1" height="15.4" fill="none"><path d="M4 4L12.55 11.4L21.1 4" stroke="#1a1c21" stroke-width="1.9" stroke-linejoin="round" stroke-linecap="round"/></svg>
<svg class="i" style="left:1144.4px;top:769px" width="25.1" height="15.4" fill="none"><path d="M4 4L12.55 11.4L21.1 4" stroke="#1a1c21" stroke-width="1.9" stroke-linejoin="round" stroke-linecap="round"/></svg>
<svg class="i" style="left:1665.4px;top:769px" width="25.1" height="15.4" fill="none"><path d="M4 4L12.55 11.4L21.1 4" stroke="#1a1c21" stroke-width="1.9" stroke-linejoin="round" stroke-linecap="round"/></svg>
<div class="clip" style="left:67px;top:808px;width:1841px;height:796px">
<svg class="i" style="left:19px;top:19px" width="32" height="32" viewBox="0 0 16 16" fill="none" stroke="#0061a6" stroke-width="1"><rect x="6" y="1" width="4" height="3" rx="0.8"/><rect x="1" y="12" width="4" height="3" rx="0.8"/><rect x="11" y="12" width="4" height="3" rx="0.8"/><path d="M0.5 8h15M8 4.2v1.3M3 10.500v1.3M13 10.500v1.3"/><circle cx="3" cy="8" r="1" fill="#fff"/><circle cx="8" cy="8" r="1" fill="#fff"/><circle cx="13" cy="8" r="1" fill="#fff"/></svg>
<span id="t51" class="t" style="left:85.77px;top:21.85px;font:400 29.00px/29.00px 'Liberation Sans', sans-serif;color:#006bb8;letter-spacing:1.529px;-webkit-text-stroke:0.55px currentColor;">elastic-523</span>
<span id="t52" class="t" style="left:606.83px;top:21.85px;font:400 29.00px/29.00px 'Liberation Sans', sans-serif;color:#343741;letter-spacing:0.627px;-webkit-text-stroke:0.2px currentColor;">BluetoothInfo</span>
<span id="t53" class="t" style="left:1127.44px;top:21.85px;font:400 29.00px/29.00px 'Liberation Sans', sans-serif;color:#343741;letter-spacing:-0.488px;-webkit-text-stroke:0.2px currentColor;">CFData</span>
<span id="t54" class="t" style="left:1649.79px;top:21.85px;font:400 29.00px/29.00px 'Liberation Sans', sans-serif;color:#343741;letter-spacing:0.511px;-webkit-text-stroke:0.2px currentColor;">%02%0eM7200</span>
<svg class="i" style="left:19px;top:91px" width="32" height="32" viewBox="0 0 16 16" fill="none" stroke="#0061a6" stroke-width="1"><rect x="6" y="1" width="4" height="3" rx="0.8"/><rect x="1" y="12" width="4" height="3" rx="0.8"/><rect x="11" y="12" width="4" height="3" rx="0.8"/><path d="M0.5 8h15M8 4.2v1.3M3 10.500v1.3M13 10.500v1.3"/><circle cx="3" cy="8" r="1" fill="#fff"/><circle cx="8" cy="8" r="1" fill="#fff"/><circle cx="13" cy="8" r="1" fill="#fff"/></svg>
<span id="t55" class="t" style="left:85.77px;top:93.85px;font:400 29.00px/29.00px 'Liberation Sans', sans-serif;color:#006bb8;letter-spacing:1.529px;-webkit-text-stroke:0.55px currentColor;">elastic-523</span>
<span id="t56" class="t" style="left:607.29px;top:93.85px;font:400 29.00px/29.00px 'Liberation Sans', sans-serif;color:#343741;letter-spacing:0.779px;-webkit-text-stroke:0.2px currentColor;">update-volume</span>
<span id="t57" class="t" style="left:1127.44px;top:93.85px;font:400 29.00px/29.00px 'Liberation Sans', sans-serif;color:#343741;letter-spacing:-0.488px;-webkit-text-stroke:0.2px currentColor;">CFData</span>
<span id="t58" class="t" style="left:1648.43px;top:93.85px;font:400 29.00px/29.00px 'Liberation Sans', sans-serif;color:#343741;letter-spacing:1.333px;-webkit-text-stroke:0.2px currentColor;">EF57347C-000</span>
<svg class="i" style="left:19px;top:163px" width="32" height="32" viewBox="0 0 16 16" fill="none" stroke="#0061a6" stroke-width="1"><rect x="6" y="1" width="4" height="3" rx="0.8"/><rect x="1" y="12" width="4" height="3" rx="0.8"/><rect x="11" y="12" width="4" height="3" rx="0.8"/><path d="M0.5 8h15M8 4.2v1.3M3 10.500v1.3M13 10.500v1.3"/><circle cx="3" cy="8" r="1" fill="#fff"/><circle cx="8" cy="8" r="1" fill="#fff"/><circle cx="13" cy="8" r="1" fill="#fff"/></svg>
<span id="t59" class="t" style="left:85.77px;top:165.85px;font:400 29.00px/29.00px 'Liberation Sans', sans-serif;color:#006bb8;letter-spacing:1.529px;-webkit-text-stroke:0.55px currentColor;">elastic-523</span>
<span id="t60" class="t" style="left:606.83px;top:165.85px;font:400 29.00px/29.00px 'Liberation Sans', sans-serif;color:#343741;letter-spacing:0.104px;-webkit-text-stroke:0.2px currentColor;">IDInstallerDataV2</span>
<span id="t61" class="t" style="left:1127.44px;top:165.85px;font:400 29.00px/29.00px 'Liberation Sans', sans-serif;color:#343741;letter-spacing:-0.488px;-webkit-text-stroke:0.2px currentColor;">CFData</span>
<span id="t62" class="t" style="left:1649.79px;top:165.85px;font:400 29.00px/29.00px 'Liberation Sans', sans-serif;color:#343741;letter-spacing:0.497px;-webkit-text-stroke:0.2px currentColor;">%e0Ebplist00%</span>
<svg class="i" style="left:19px;top:235px" width="32" height="32" viewBox="0 0 16 16" fill="none" stroke="#0061a6" stroke-width="1"><rect x="6" y="1" width="4" height="3" rx="0.8"/><rect x="1" y="12" width="4" height="3" rx="0.8"/><rect x="11" y="12" width="4" height="3" rx="0.8"/><path d="M0.5 8h15M8 4.2v1.3M3 10.500v1.3M13 10.500v1.3"/><circle cx="3" cy="8" r="1" fill="#fff"/><circle cx="8" cy="8" r="1" fill="#fff"/><circle cx="13" cy="8" r="1" fill="#fff"/></svg>
<span id="t63" class="t" style="left:85.77px;top:237.85px;font:400 29.00px/29.00px 'Liberation Sans', sans-serif;color:#006bb8;letter-spacing:1.529px;-webkit-text-stroke:0.55px currentColor;">elastic-523</span>
<span id="t64" class="t" style="left:607.29px;top:237.85px;font:400 29.00px/29.00px 'Liberation Sans', sans-serif;color:#343741;letter-spacing:0.727px;-webkit-text-stroke:0.2px currentColor;">prev-lang:kbd</span>
<span id="t65" class="t" style="left:1127.44px;top:237.85px;font:400 29.00px/29.00px 'Liberation Sans', sans-serif;color:#343741;letter-spacing:-0.488px;-webkit-text-stroke:0.2px currentColor;">CFData</span>
<span id="t66" class="t" style="left:1649.79px;top:237.85px;font:400 29.00px/29.00px 'Liberation Sans', sans-serif;color:#343741;letter-spacing:-0.038px;-webkit-text-stroke:0.2px currentColor;">en:0</span>
<svg class="i" style="left:19px;top:307px" width="32" height="32" viewBox="0 0 16 16" fill="none" stroke="#0061a6" stroke-width="1"><rect x="6" y="1" width="4" height="3" rx="0.8"/><rect x="1" y="12" width="4" height="3" rx="0.8"/><rect x="11" y="12" width="4" height="3" rx="0.8"/><path d="M0.5 8h15M8 4.2v1.3M3 10.500v1.3M13 10.500v1.3"/><circle cx="3" cy="8" r="1" fill="#fff"/><circle cx="8" cy="8" r="1" fill="#fff"/><circle cx="13" cy="8" r="1" fill="#fff"/></svg>
<span id="t67" class="t" style="left:85.77px;top:309.85px;font:400 29.00px/29.00px 'Liberation Sans', sans-serif;color:#006bb8;letter-spacing:1.529px;-webkit-text-stroke:0.55px currentColor;">elastic-523</span>
<span id="t68" class="t" style="left:606.83px;top:309.85px;font:400 29.00px/29.00px 'Liberation Sans', sans-serif;color:#343741;letter-spacing:0.333px;-webkit-text-stroke:0.2px currentColor;">LocationServicesEnabled</span>
<span id="t69" class="t" style="left:1127.44px;top:309.85px;font:400 29.00px/29.00px 'Liberation Sans', sans-serif;color:#343741;letter-spacing:-0.488px;-webkit-text-stroke:0.2px currentColor;">CFData</span>
<span id="t70" class="t" style="left:1649.79px;top:309.85px;font:400 29.00px/29.00px 'Liberation Sans', sans-serif;color:#343741;letter-spacing:-1.630px;-webkit-text-stroke:0.2px currentColor;">%01</span>
<svg class="i" style="left:19px;top:379px" width="32" height="32" viewBox="0 0 16 16" fill="none" stroke="#0061a6" stroke-width="1"><rect x="6" y="1" width="4" height="3" rx="0.8"/><rect x="1" y="12" width="4" height="3" rx="0.8"/><rect x="11" y="12" width="4" height="3" rx="0.8"/><path d="M0.5 8h15M8 4.2v1.3M3 10.500v1.3M13 10.500v1.3"/><circle cx="3" cy="8" r="1" fill="#fff"/><circle cx="8" cy="8" r="1" fill="#fff"/><circle cx="13" cy="8" r="1" fill="#fff"/></svg>
<span id="t71" class="t" style="left:85.77px;top:381.85px;font:400 29.00px/29.00px 'Liberation Sans', sans-serif;color:#006bb8;letter-spacing:1.529px;-webkit-text-stroke:0.55px currentColor;">elastic-523</span>
<span id="t72" class="t" style="left:607.29px;top:381.85px;font:400 29.00px/29.00px 'Liberation Sans', sans-serif;color:#343741;letter-spacing:0.838px;-webkit-text-stroke:0.2px currentColor;">preferred-networks</span>
<span id="t73" class="t" style="left:1127.44px;top:381.85px;font:400 29.00px/29.00px 'Liberation Sans', sans-serif;color:#343741;letter-spacing:-0.488px;-webkit-text-stroke:0.2px currentColor;">CFData</span>
<span id="t74" class="t" style="left:1649.79px;top:381.85px;font:400 29.00px/29.00px 'Liberation Sans', sans-serif;color:#343741;letter-spacing:0.058px;-webkit-text-stroke:0.2px currentColor;">%04 %05 %0b%</span>
<svg class="i" style="left:19px;top:451px" width="32" height="32" viewBox="0 0 16 16" fill="none" stroke="#0061a6" stroke-width="1"><rect x="6" y="1" width="4" height="3" rx="0.8"/><rect x="1" y="12" width="4" height="3" rx="0.8"/><rect x="11" y="12" width="4" height="3" rx="0.8"/><path d="M0.5 8h15M8 4.2v1.3M3 10.500v1.3M13 10.500v1.3"/><circle cx="3" cy="8" r="1" fill="#fff"/><circle cx="8" cy="8" r="1" fill="#fff"/><circle cx="13" cy="8" r="1" fill="#fff"/></svg>
<span id="t75" class="t" style="left:85.77px;top:453.85px;font:400 29.00px/29.00px 'Liberation Sans', sans-serif;color:#006bb8;letter-spacing:1.529px;-webkit-text-stroke:0.55px currentColor;">elastic-523</span>
<span id="t76" class="t" style="left:607.29px;top:453.85px;font:400 29.00px/29.00px 'Liberation Sans', sans-serif;color:#343741;letter-spacing:0.867px;-webkit-text-stroke:0.2px currentColor;">backlight-nits</span>
<span id="t77" class="t" style="left:1127.44px;top:453.85px;font:400 29.00px/29.00px 'Liberation Sans', sans-serif;color:#343741;letter-spacing:-0.488px;-webkit-text-stroke:0.2px currentColor;">CFData</span>
<span id="t78" class="t" style="left:1649.79px;top:453.85px;font:400 29.00px/29.00px 'Liberation Sans', sans-serif;color:#343741;letter-spacing:1.841px;-webkit-text-stroke:0.2px currentColor;">0×008c0000</span>
<svg class="i" style="left:19px;top:523px" width="32" height="32" viewBox="0 0 16 16" fill="none" stroke="#0061a6" stroke-width="1"><rect x="6" y="1" width="4" height="3" rx="0.8"/><rect x="1" y="12" width="4" height="3" rx="0.8"/><rect x="11" y="12" width="4" height="3" rx="0.8"/><path d="M0.5 8h15M8 4.2v1.3M3 10.500v1.3M13 10.500v1.3"/><circle cx="3" cy="8" r="1" fill="#fff"/><circle cx="8" cy="8" r="1" fill="#fff"/><circle cx="13" cy="8" r="1" fill="#fff"/></svg>
<span id="t79" class="t" style="left:85.77px;top:525.85px;font:400 29.00px/29.00px 'Liberation Sans', sans-serif;color:#006bb8;letter-spacing:1.529px;-webkit-text-stroke:0.55px currentColor;">elastic-523</span>
<span id="t80" class="t" style="left:607.29px;top:525.85px;font:400 29.00px/29.00px 'Liberation Sans', sans-serif;color:#343741;letter-spacing:0.924px;-webkit-text-stroke:0.2px currentColor;">policy-nonce-digests</span>
<span id="t81" class="t" style="left:1127.44px;top:525.85px;font:400 29.00px/29.00px 'Liberation Sans', sans-serif;color:#343741;letter-spacing:-0.488px;-webkit-text-stroke:0.2px currentColor;">CFData</span>
<span id="t82" class="t" style="left:1650.70px;top:525.85px;font:400 29.00px/29.00px 'Liberation Sans', sans-serif;color:#343741;letter-spacing:0.487px;-webkit-text-stroke:0.2px currentColor;">A894AE9D5319</span>
<svg class="i" style="left:19px;top:595px" width="32" height="32" viewBox="0 0 16 16" fill="none" stroke="#0061a6" stroke-width="1"><rect x="6" y="1" width="4" height="3" rx="0.8"/><rect x="1" y="12" width="4" height="3" rx="0.8"/><rect x="11" y="12" width="4" height="3" rx="0.8"/><path d="M0.5 8h15M8 4.2v1.3M3 10.500v1.3M13 10.500v1.3"/><circle cx="3" cy="8" r="1" fill="#fff"/><circle cx="8" cy="8" r="1" fill="#fff"/><circle cx="13" cy="8" r="1" fill="#fff"/></svg>
<span id="t83" class="t" style="left:85.77px;top:597.85px;font:400 29.00px/29.00px 'Liberation Sans', sans-serif;color:#006bb8;letter-spacing:1.529px;-webkit-text-stroke:0.55px currentColor;">elastic-523</span>
<span id="t84" class="t" style="left:607.29px;top:597.85px;font:400 29.00px/29.00px 'Liberation Sans', sans-serif;color:#343741;letter-spacing:0.920px;-webkit-text-stroke:0.2px currentColor;">boot-volume</span>
<span id="t85" class="t" style="left:1127.44px;top:597.85px;font:400 29.00px/29.00px 'Liberation Sans', sans-serif;color:#343741;letter-spacing:-0.488px;-webkit-text-stroke:0.2px currentColor;">CFData</span>
<span id="t86" class="t" style="left:1648.43px;top:597.85px;font:400 29.00px/29.00px 'Liberation Sans', sans-serif;color:#343741;letter-spacing:1.333px;-webkit-text-stroke:0.2px currentColor;">EF57347C-000</span>
<svg class="i" style="left:19px;top:667px" width="32" height="32" viewBox="0 0 16 16" fill="none" stroke="#0061a6" stroke-width="1"><rect x="6" y="1" width="4" height="3" rx="0.8"/><rect x="1" y="12" width="4" height="3" rx="0.8"/><rect x="11" y="12" width="4" height="3" rx="0.8"/><path d="M0.5 8h15M8 4.2v1.3M3 10.500v1.3M13 10.500v1.3"/><circle cx="3" cy="8" r="1" fill="#fff"/><circle cx="8" cy="8" r="1" fill="#fff"/><circle cx="13" cy="8" r="1" fill="#fff"/></svg>
<span id="t87" class="t" style="left:85.77px;top:669.85px;font:400 29.00px/29.00px 'Liberation Sans', sans-serif;color:#006bb8;letter-spacing:1.529px;-webkit-text-stroke:0.55px currentColor;">elastic-523</span>
<span id="t88" class="t" style="left:607.29px;top:669.85px;font:400 29.00px/29.00px 'Liberation Sans', sans-serif;color:#343741;letter-spacing:0.817px;-webkit-text-stroke:0.2px currentColor;">lts-persistance</span>
<span id="t89" class="t" style="left:1127.44px;top:669.85px;font:400 29.00px/29.00px 'Liberation Sans', sans-serif;color:#343741;letter-spacing:-0.488px;-webkit-text-stroke:0.2px currentColor;">CFData</span>
<span id="t90" class="t" style="left:1649.79px;top:669.85px;font:400 29.00px/29.00px 'Liberation Sans', sans-serif;color:#343741;letter-spacing:0.335px;-webkit-text-stroke:0.2px currentColor;">%01 %04 {%14</span>
<svg class="i" style="left:19px;top:739px" width="32" height="32" viewBox="0 0 16 16" fill="none" stroke="#0061a6" stroke-width="1"><rect x="6" y="1" width="4" height="3" rx="0.8"/><rect x="1" y="12" width="4" height="3" rx="0.8"/><rect x="11" y="12" width="4" height="3" rx="0.8"/><path d="M0.5 8h15M8 4.2v1.3M3 10.500v1.3M13 10.500v1.3"/><circle cx="3" cy="8" r="1" fill="#fff"/><circle cx="8" cy="8" r="1" fill="#fff"/><circle cx="13" cy="8" r="1" fill="#fff"/></svg>
<span id="t91" class="t" style="left:85.77px;top:741.85px;font:400 29.00px/29.00px 'Liberation Sans', sans-serif;color:#006bb8;letter-spacing:1.529px;-webkit-text-stroke:0.55px currentColor;">elastic-523</span>
<span id="t92" class="t" style="left:607.29px;top:741.85px;font:400 29.00px/29.00px 'Liberation Sans', sans-serif;color:#343741;letter-spacing:1.293px;-webkit-text-stroke:0.2px currentColor;">boot-note</span>
<span id="t93" class="t" style="left:1127.44px;top:741.85px;font:400 29.00px/29.00px 'Liberation Sans', sans-serif;color:#343741;letter-spacing:-0.488px;-webkit-text-stroke:0.2px currentColor;">CFData</span>
<span id="t94" class="t" style="left:1649.79px;top:741.85px;font:400 29.00px/29.00px 'Liberation Sans', sans-serif;color:#343741;letter-spacing:0.138px;-webkit-text-stroke:0.2px currentColor;">%e5%b2%f6%e</span>
</div>
<div class="r" style="left:65px;top:1604px;width:1843px;height:73px;background:#fafbfd;"></div>
<span id="t95" class="t" style="left:80.59px;top:1633.16px;font:400 24.50px/24.50px 'Liberation Sans', sans-serif;color:#343741;letter-spacing:0.548px;-webkit-text-stroke:0.4px currentColor;">Rows per page: 50</span>
<svg class="i" style="left:311.4px;top:1638.1px" width="25.1" height="15.4" fill="none"><path d="M4 4L12.55 11.4L21.1 4" stroke="#343741" stroke-width="1.8" stroke-linejoin="round" stroke-linecap="round"/></svg>
<div id="frame"></div>
</body></html>
